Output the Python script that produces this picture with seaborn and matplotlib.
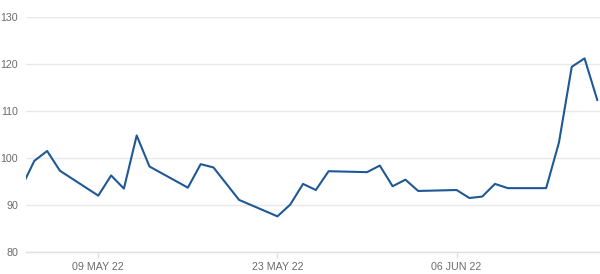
import matplotlib
matplotlib.use("Agg")
import matplotlib.pyplot as plt
import matplotlib.dates as mdates
import seaborn as sns
import pandas as pd

dates = ["2022-05-03", "2022-05-04", "2022-05-05", "2022-05-06",
         "2022-05-09", "2022-05-10", "2022-05-11", "2022-05-12", "2022-05-13",
         "2022-05-16", "2022-05-17", "2022-05-18", "2022-05-20",
         "2022-05-23", "2022-05-24", "2022-05-25", "2022-05-26", "2022-05-27",
         "2022-05-30", "2022-05-31", "2022-06-01", "2022-06-02", "2022-06-03",
         "2022-06-06", "2022-06-07", "2022-06-08", "2022-06-09", "2022-06-10",
         "2022-06-13", "2022-06-14", "2022-06-15", "2022-06-16", "2022-06-17"]
values = [93.8, 99.4, 101.5, 97.3,
          92.0, 96.3, 93.5, 104.8, 98.2,
          93.7, 98.7, 98.0, 91.1,
          87.6, 90.1, 94.5, 93.2, 97.2,
          97.0, 98.4, 94.0, 95.4, 93.0,
          93.2, 91.5, 91.8, 94.5, 93.6,
          93.6, 103.3, 119.4, 121.2, 112.3]
y_ticks = [80, 90, 100, 110, 120, 130]
x_ticks = ["2022-05-09", "2022-05-23", "2022-06-06"]

df = pd.DataFrame({"date": pd.to_datetime(dates), "value": values})

sns.set_theme(style="white")
plt.rcParams["font.family"] = ["Liberation Sans", "DejaVu Sans"]

fig = plt.figure(figsize=(6.0, 2.74), dpi=100)
ax = fig.add_axes([0.043, 0.080, 0.957, 0.858])

sns.lineplot(data=df, x="date", y="value", ax=ax, color="#1f5896", linewidth=1.5)

ax.set_ylim(80, 130)
ax.set_xlim(pd.Timestamp("2022-05-03 08:00"), pd.Timestamp("2022-06-17 05:00"))
ax.set_yticks(y_ticks)
ax.set_xticks(pd.to_datetime(x_ticks))
ax.xaxis.set_major_formatter(mdates.DateFormatter("%d %b %y"))
ax.set_xticklabels([pd.Timestamp(t).strftime("%d %b %y").upper() for t in x_ticks])

ax.grid(axis="y", color="#e8e8e8", linewidth=1.0)
ax.set_axisbelow(True)
for s in ["top", "right", "left"]:
    ax.spines[s].set_visible(False)
ax.spines["bottom"].set_color("#e0e0e0")
ax.spines["bottom"].set_linewidth(1.0)

ax.tick_params(axis="y", length=0, pad=5.5, labelsize=7.7, labelcolor="#6b6b6b")
ax.tick_params(axis="x", length=4, width=1, color="#e0e0e0", pad=3,
               labelsize=7.7, labelcolor="#6b6b6b", direction="out", bottom=True)
ax.set_xlabel("")
ax.set_ylabel("")

fig.savefig("out.png", dpi=100)
